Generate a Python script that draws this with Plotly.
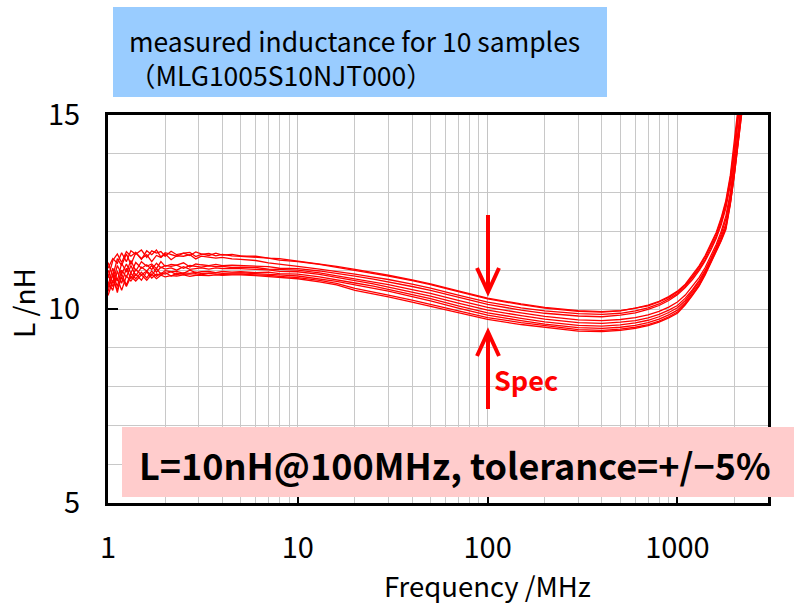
import plotly.graph_objects as go

# ---------------- data ----------------
freq_mhz = [1.0, 1.06, 1.12, 1.18, 1.25, 1.32, 1.4, 1.5, 1.6, 1.7, 1.8, 1.9, 2.0, 2.15, 2.3, 2.5, 2.7, 2.9, 3.1, 3.4, 3.7, 4.0, 4.5,
            5, 6, 7, 8, 10, 13, 16, 20, 25, 30, 40, 50, 70,
            100, 150, 200, 300, 400, 500, 600, 700, 800, 900, 1000,
            1100, 1200, 1300, 1400, 1500, 1600, 1700, 1800, 1900, 2000, 2100, 2200, 2300]

sample_01 = [11.05, 11.3, 11.18, 11.45, 11.22, 11.5, 11.41, 11.52, 11.33, 11.5, 11.44, 11.48, 11.36, 11.49, 11.4, 11.44, 11.38, 11.47, 11.42, 11.38, 11.44, 11.39, 11.41,
             11.37, 11.36, 11.31, 11.3, 11.24, 11.17, 11.1, 11.02, 10.94, 10.87, 10.75, 10.65, 10.47,
             10.28, 10.13, 10.04, 9.96, 9.93, 9.96, 10.02, 10.1, 10.2, 10.32, 10.46,
             10.64, 10.87, 11.11, 11.38, 11.67, 11.97, 12.35, 12.8, 13.45, 14.3, 15.3, 16.6, 18.0]
sample_02 = [10.8, 11.25, 11.42, 11.2, 11.48, 11.36, 11.46, 11.28, 11.5, 11.4, 11.52, 11.34, 11.45, 11.41, 11.36, 11.44, 11.46, 11.35, 11.41, 11.43, 11.37, 11.41, 11.37,
             11.36, 11.33, 11.31, 11.26, 11.22, 11.15, 11.08, 11.0, 10.92, 10.85, 10.73, 10.63, 10.45,
             10.26, 10.11, 10.02, 9.94, 9.92, 9.95, 10.01, 10.08, 10.18, 10.3, 10.44,
             10.62, 10.84, 11.08, 11.34, 11.63, 11.93, 12.3, 12.75, 13.38, 14.2, 15.2, 16.4, 17.8]
sample_03 = [11.2, 10.85, 11.3, 11.12, 11.42, 11.15, 11.45, 11.3, 11.4, 11.22, 11.38, 11.33, 11.42, 11.27, 11.37, 11.36, 11.4, 11.29, 11.36, 11.33, 11.31, 11.33, 11.29,
             11.28, 11.25, 11.19, 11.16, 11.1, 11.03, 10.97, 10.9, 10.82, 10.76, 10.64, 10.54, 10.36,
             10.18, 10.03, 9.95, 9.88, 9.86, 9.89, 9.95, 10.03, 10.13, 10.26, 10.4,
             10.58, 10.8, 11.03, 11.28, 11.57, 11.87, 12.23, 12.68, 13.3, 14.1, 15.1, 16.3, 17.6]
sample_04 = [10.6, 11.05, 10.72, 11.18, 10.95, 11.25, 10.98, 11.22, 11.1, 11.16, 11.04, 11.22, 11.1, 11.15, 11.13, 11.19, 11.08, 11.16, 11.14, 11.12, 11.15, 11.12, 11.13,
             11.12, 11.1, 11.09, 11.05, 11.04, 10.98, 10.92, 10.85, 10.77, 10.7, 10.58, 10.48, 10.3,
             10.12, 9.97, 9.89, 9.82, 9.8, 9.84, 9.9, 9.99, 10.09, 10.22, 10.37,
             10.55, 10.76, 10.99, 11.24, 11.52, 11.82, 12.17, 12.6, 13.2, 14.0, 15.0, 16.2, 17.5]
sample_05 = [11.0, 10.68, 11.12, 10.9, 11.16, 10.92, 11.2, 11.05, 11.14, 11.02, 11.18, 11.06, 11.12, 11.1, 11.13, 11.05, 11.12, 11.1, 11.08, 11.11, 11.09, 11.1, 11.07,
             11.08, 11.07, 11.03, 11.02, 11.0, 10.93, 10.86, 10.78, 10.7, 10.63, 10.5, 10.4, 10.22,
             10.04, 9.9, 9.81, 9.72, 9.7, 9.73, 9.78, 9.85, 9.94, 10.05, 10.18,
             10.36, 10.58, 10.81, 11.07, 11.36, 11.66, 12.0, 12.4, 13.0, 13.8, 14.7, 15.7, 17.0]
sample_06 = [10.45, 10.9, 10.58, 11.0, 10.82, 11.12, 10.85, 11.08, 10.98, 11.12, 10.95, 11.08, 11.03, 11.06, 11.0, 11.09, 11.02, 11.05, 11.06, 11.03, 11.06, 11.04, 11.05,
             11.04, 11.02, 11.01, 10.97, 10.96, 10.89, 10.82, 10.73, 10.65, 10.57, 10.44, 10.33, 10.15,
             9.97, 9.83, 9.74, 9.65, 9.63, 9.66, 9.7, 9.77, 9.86, 9.97, 10.09,
             10.28, 10.5, 10.74, 11.0, 11.3, 11.6, 11.93, 12.32, 12.92, 13.7, 14.6, 15.6, 16.8]
sample_07 = [10.7, 10.48, 10.98, 10.66, 11.05, 10.78, 11.02, 10.88, 10.98, 10.86, 11.04, 10.9, 10.99, 10.96, 10.97, 10.92, 11.0, 10.94, 10.96, 10.97, 10.94, 10.97, 10.95,
             10.96, 10.94, 10.95, 10.91, 10.9, 10.83, 10.76, 10.67, 10.59, 10.51, 10.38, 10.27, 10.08,
             9.9, 9.76, 9.67, 9.58, 9.56, 9.59, 9.64, 9.71, 9.8, 9.91, 10.03,
             10.22, 10.45, 10.69, 10.96, 11.26, 11.55, 11.86, 12.2, 12.8, 13.6, 14.45, 15.4, 16.5]
sample_08 = [10.55, 10.88, 10.42, 10.9, 10.62, 10.92, 10.78, 10.95, 10.8, 10.98, 10.84, 10.93, 10.9, 10.96, 10.88, 10.93, 10.92, 10.95, 10.91, 10.93, 10.94, 10.92, 10.93,
             10.93, 10.91, 10.9, 10.88, 10.85, 10.78, 10.71, 10.62, 10.53, 10.46, 10.32, 10.21, 10.02,
             9.84, 9.7, 9.61, 9.52, 9.5, 9.53, 9.58, 9.65, 9.74, 9.85, 9.97,
             10.17, 10.4, 10.64, 10.92, 11.22, 11.5, 11.8, 12.13, 12.75, 13.55, 14.35, 15.3, 16.3]
sample_09 = [10.9, 10.58, 10.8, 10.48, 10.85, 10.72, 10.9, 10.74, 10.96, 10.8, 10.9, 10.87, 10.94, 10.85, 10.92, 10.89, 10.9, 10.91, 10.88, 10.92, 10.9, 10.89, 10.9,
             10.9, 10.88, 10.87, 10.84, 10.81, 10.74, 10.66, 10.53, 10.44, 10.36, 10.23, 10.12, 9.94,
             9.78, 9.65, 9.57, 9.47, 9.45, 9.48, 9.53, 9.6, 9.69, 9.8, 9.92,
             10.13, 10.37, 10.61, 10.9, 11.2, 11.47, 11.77, 12.09, 12.72, 13.5, 14.3, 15.2, 16.2]
sample_10 = [10.35, 10.72, 10.5, 10.82, 10.58, 10.84, 10.72, 10.88, 10.74, 10.9, 10.78, 10.87, 10.83, 10.86, 10.85, 10.88, 10.84, 10.87, 10.87, 10.86, 10.88, 10.87, 10.88,
             10.88, 10.86, 10.84, 10.82, 10.78, 10.7, 10.62, 10.48, 10.39, 10.31, 10.18, 10.07, 9.9,
             9.73, 9.6, 9.53, 9.43, 9.42, 9.45, 9.5, 9.57, 9.66, 9.77, 9.89,
             10.11, 10.35, 10.59, 10.88, 11.18, 11.45, 11.75, 12.05, 12.7, 13.5, 14.3, 15.2, 16.2]

samples = [sample_01, sample_02, sample_03, sample_04, sample_05,
           sample_06, sample_07, sample_08, sample_09, sample_10]

x_tick_vals = [1, 10, 100, 1000]
x_tick_text = ["1", "10", "100", "1000"]
y_tick_vals = [5, 10, 15]
y_tick_text = ["5", "10", "15"]

title_lines = ["measured inductance for 10 samples", "（MLG1005S10NJT000）"]
spec_note = "L=10nH@100MHz, tolerance=+/−5%"

FONT = "Noto Sans CJK JP"

# ---------------- figure ----------------
fig = go.Figure()
for s in samples:
    fig.add_trace(go.Scatter(x=freq_mhz, y=s, mode="lines",
                             line=dict(color="#ff0000", width=1.3),
                             showlegend=False, hoverinfo="skip"))

minor_x = [m * 10 ** d for d in range(0, 4) for m in range(2, 10) if m * 10 ** d <= 3000]

fig.update_xaxes(type="log", range=[0, 3.4771],
                 tickvals=x_tick_vals, ticktext=x_tick_text,
                 showline=True, linecolor="black", linewidth=3, mirror=True,
                 ticks="inside", ticklen=8, tickcolor="black", tickwidth=1.5,
                 showgrid=True, gridcolor="#c4c4c4", gridwidth=1,
                 minor=dict(tickvals=minor_x, showgrid=True, gridcolor="#c8c8c8",
                            gridwidth=1, ticks=""),
                 tickfont=dict(family=FONT, size=29, color="black"),
                 ticklabelstandoff=17, zeroline=False)
fig.update_yaxes(range=[5, 15], tickvals=y_tick_vals, ticktext=y_tick_text,
                 showline=True, linecolor="black", linewidth=3, mirror=True,
                 ticks="inside", ticklen=10, tickcolor="black", tickwidth=1.5,
                 showgrid=True, gridcolor="#c4c4c4", gridwidth=1,
                 minor=dict(dtick=1, showgrid=True, gridcolor="#c8c8c8",
                            gridwidth=1, ticks=""),
                 tickfont=dict(family=FONT, size=29, color="black"),
                 ticklabelstandoff=19, zeroline=False)

# plot area: x 108..768, y 115..503 px
PL, PR, PT, PB = 108, 768, 115, 503
def px(x):
    return (x - PL) / (PR - PL)
def py(y):
    return (PB - y) / (PB - PT)

shapes = [
    # blue title box
    dict(type="rect", xref="paper", yref="paper", x0=px(113), x1=px(607), y0=py(97), y1=py(7),
         fillcolor="#99ccff", line=dict(width=0), layer="above"),
    # pink spec box
    dict(type="rect", xref="paper", yref="paper", x0=px(122), x1=px(794), y0=py(497), y1=py(427),
         fillcolor="#ffcccc", line=dict(width=0), layer="above"),
    # down arrow
    dict(type="path", xref="paper", yref="paper",
         path=f"M {px(488)} {py(215)} L {px(488)} {py(289)}",
         line=dict(color="#ff0000", width=4), layer="above"),
    dict(type="path", xref="paper", yref="paper",
         path=f"M {px(477)} {py(268)} L {px(488)} {py(292)} L {px(499)} {py(268)}",
         line=dict(color="#ff0000", width=4), layer="above"),
    # up arrow
    dict(type="path", xref="paper", yref="paper",
         path=f"M {px(488)} {py(409)} L {px(488)} {py(336)}",
         line=dict(color="#ff0000", width=4), layer="above"),
    dict(type="path", xref="paper", yref="paper",
         path=f"M {px(477)} {py(356)} L {px(488)} {py(332)} L {px(499)} {py(356)}",
         line=dict(color="#ff0000", width=4), layer="above"),
]

annotations = [
    dict(xref="paper", yref="paper", x=px(127), y=py(57), text="<br>".join(title_lines),
         showarrow=False, xanchor="left", yanchor="middle", align="left",
         font=dict(family=FONT, size=26.5, color="black")),
    dict(xref="paper", yref="paper", x=px(455), y=py(464), text="<b>" + spec_note + "</b>",
         showarrow=False, xanchor="center", yanchor="middle",
         font=dict(family=FONT, size=36, color="black")),
    dict(xref="paper", yref="paper", x=px(492), y=py(379), text="<b>Spec</b>", showarrow=False,
         xanchor="left", yanchor="middle", font=dict(family=FONT, size=27, color="#ff0000")),
    dict(xref="paper", yref="paper", x=px(487), y=py(585), text="Frequency /MHz", showarrow=False,
         xanchor="center", yanchor="middle", font=dict(family=FONT, size=27.5, color="black")),
    dict(xref="paper", yref="paper", x=px(23), y=py(303), text="L /nH", showarrow=False,
         textangle=-90, xanchor="center", yanchor="middle",
         font=dict(family=FONT, size=28, color="black")),
]

fig.update_layout(width=794, height=604,
                  margin=dict(l=PL, r=794 - PR, t=PT, b=604 - PB, pad=0),
                  paper_bgcolor="white", plot_bgcolor="white",
                  shapes=shapes, annotations=annotations,
                  font=dict(family=FONT))

fig.write_html("out.html", config={"displayModeBar": False},
               post_script="document.body.style.margin='0';document.body.style.overflow='hidden';")
